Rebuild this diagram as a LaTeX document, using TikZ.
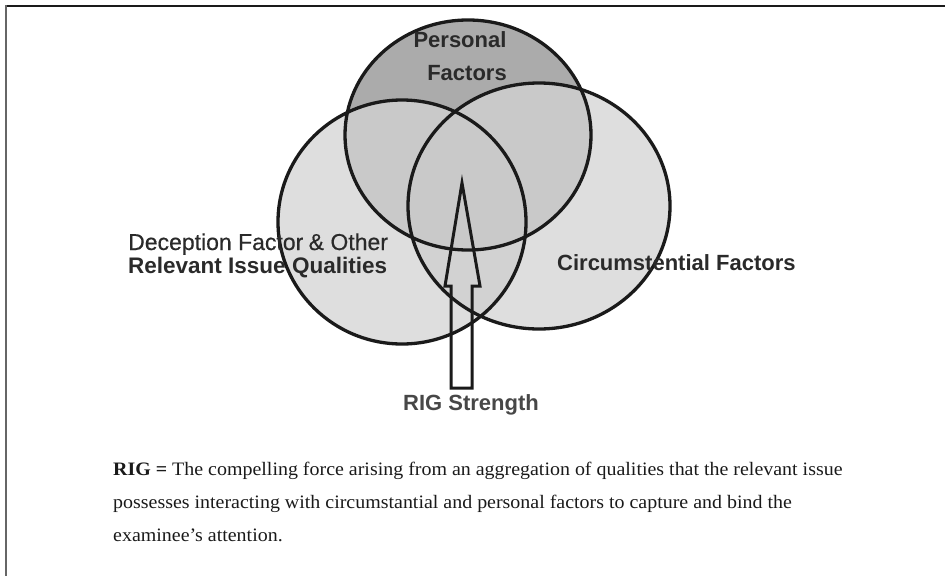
\documentclass[tikz,border=0pt]{standalone}
\usepackage{fontspec}
\setmainfont{Liberation Serif}
\setsansfont{Liberation Sans}
\newfontfamily\semisans[FakeBold=0.5]{Liberation Sans}
\definecolor{lightfill}{HTML}{DEDEDE}
\definecolor{midfill}{HTML}{C9C9C9}
\definecolor{lrfill}{HTML}{D2D2D2}
\definecolor{darkfill}{HTML}{ABABAB}
\definecolor{ink}{HTML}{1A1A1A}
\definecolor{labink}{HTML}{2A2A2A}
\tikzset{
  ring/.style={draw=ink, line width=3.3pt},
  lab/.style={font=\sffamily\bfseries\fontsize{22}{24}\selectfont, text=labink, inner sep=0pt},
  labsemi/.style={font=\semisans\fontsize{23}{25}\selectfont, text=labink, inner sep=0pt},
  body/.style={font=\fontsize{19}{21}\selectfont, text=ink, inner sep=0pt, anchor=base west, xscale=1.05},
  blockarrow/.style={draw=ink, line width=3pt, line join=miter},
}
\begin{document}
\begin{tikzpicture}[x=1pt,y=-1pt]
\useasboundingbox (0,0) rectangle (945,576);
% frame
\draw[line width=2.2pt, draw=ink] (5,6) -- (122,6);
\draw[line width=1.2pt, draw=ink] (122,6) -- (811,6);
\draw[line width=2.2pt, draw=ink] (811,6) -- (945,6);
\draw[line width=2pt, draw=black!60] (6,5) -- (6,576);

% circle geometry
\def\Lpath{(402,222) ellipse [x radius=124, y radius=122]}
\def\Rpath{(539,206) ellipse [x radius=131, y radius=123]}
\def\Ppath{(468,135) ellipse [x radius=123, y radius=115]}

% fills
\fill[lightfill] \Lpath;
\fill[lightfill] \Rpath;
\begin{scope}
  \clip \Lpath;
  \fill[lrfill] \Rpath;
\end{scope}
\fill[darkfill] \Ppath;
\begin{scope}
  \clip \Ppath;
  \fill[midfill] \Lpath;
  \fill[midfill] \Rpath;
\end{scope}

% outlines
\draw[ring] \Lpath;
\draw[ring] \Rpath;
\draw[ring] \Ppath;

% hollow block arrow
\coordinate (tip) at (462,183);
\draw[blockarrow] (451,388) -- (451,286) -- (445,286) -- (tip) -- (480,286) -- (472,286) -- (472,388) -- cycle;

% labels
\node[lab, anchor=base] (pers1) at (460,47) {Personal};
\node[lab, anchor=base] (pers2) at (467,80) {Factors};
\node[labsemi, anchor=base west] (dec) at (128,250) {Deception Factor\kern-1pt\ \& Other};
\node[lab, anchor=base west, font=\sffamily\bfseries\fontsize{22.5}{24}\selectfont] (rel) at (128,273) {Relevant Issue Qualities};
\node[lab, anchor=base west] (circ) at (557,270) {Circumstential Factors};
\node[lab, anchor=base west, text=black!72] (rig) at (403,410) {RIG Strength};

% definition text
\node[body] (t1) at (113,475) {\textbf{RIG =} The compelling force arising from an aggregation of qualities that the relevant issue};
\node[body] (t2) at (113,508) {possesses interacting with circumstantial and personal factors to capture and bind the};
\node[body] (t3) at (113,541) {examinee’s attention.};
\end{tikzpicture}
\end{document}
